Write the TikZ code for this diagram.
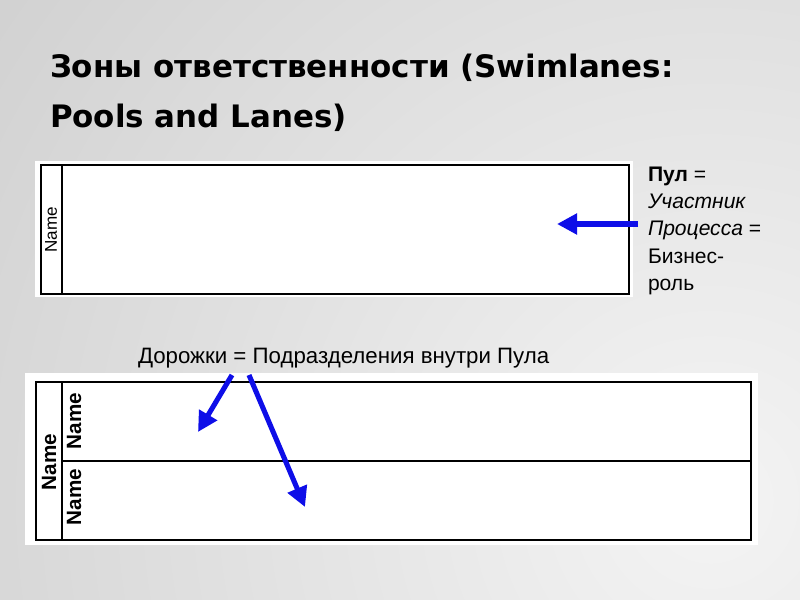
\documentclass[tikz,border=0pt]{standalone}
\usepackage{fontspec}
\setmainfont{Liberation Sans}
\newfontfamily\titlefont{DejaVu Sans}
\usepackage{tikz}
\usetikzlibrary{arrows.meta}
\definecolor{arrowblue}{RGB}{14,14,232}
\definecolor{bglight}{RGB}{244,244,244}
\definecolor{bgdark}{RGB}{178,178,178}

\begin{document}
\begin{tikzpicture}[x=0.75pt, y=-0.75pt,
            every node/.style = {inner sep=0pt, outer sep=0pt},
            titletext/.style = {anchor=north west, align=left,
                                font=\titlefont\bfseries\fontsize{23.2}{37.5}\selectfont},
            sidetext/.style = {anchor=north west, align=left,
                               font=\fontsize{15.8}{20.4}\selectfont},
            lanetext/.style = {anchor=base west, font=\fontsize{16.7}{19}\selectfont},
            poolname/.style = {rotate=90, font=\fontsize{12.8}{15}\selectfont},
            lanename/.style = {rotate=90, font=\bfseries\fontsize{15.5}{18}\selectfont},
            panel/.style = {fill=white},
            poolbox/.style = {draw=black, line width=1pt},
            bluearrow/.style = {draw=arrowblue, line width=3.8pt,
                                -{Triangle[length=15pt, width=15pt]}}]
    % background
    \begin{scope}
        \clip (0,0) rectangle (800,600);
        \shade[inner color=bglight, outer color=bgdark] (710,500) circle (1250pt);
    \end{scope}
    \useasboundingbox (0,0) rectangle (800,600);

    \node[titletext] (title) at (50,54) {Зоны ответственности (Swimlanes:\\Pools and Lanes)};

    % pool
    \fill[panel] (35,161) rectangle (633,297);
    \draw[poolbox] (41,165) rectangle (629,294);
    \draw[poolbox] (62,165) -- (62,294);
    \node[poolname] (pool) at (51,230) {Name};

    \node[sidetext] (role) at (648,167) {\textbf{Пул} =\\\textit{Участник}\\\textit{Процесса} =\\Бизнес-\\роль};
    \coordinate (roleend) at (638,224);
    \coordinate (pooltip) at (557,224);
    \draw[bluearrow] (roleend) -- (pooltip);

    % pool with lanes
    \node[lanetext] (lanes) at (138,363) {Дорожки = Подразделения внутри Пула};
    \fill[panel] (25,373) rectangle (758,545);
    \draw[poolbox, line width=1.3pt] (36,382) rectangle (751,540);
    \draw[poolbox] (62,382) -- (62,540);
    \draw[poolbox] (62,461) -- (751,461);
    \node[lanename] (pooltwo) at (49,462) {Name};
    \node[lanename] (laneone) at (74,421) {Name};
    \node[lanename] (lanetwo) at (74,497) {Name};

    \coordinate (fromone) at (232,375);
    \coordinate (fromtwo) at (249,375);
    \coordinate (tipone) at (198,432);
    \coordinate (tiptwo) at (305,507);
    \draw[bluearrow] (fromone) -- (tipone);
    \draw[bluearrow] (fromtwo) -- (tiptwo);
\end{tikzpicture}
\end{document}
